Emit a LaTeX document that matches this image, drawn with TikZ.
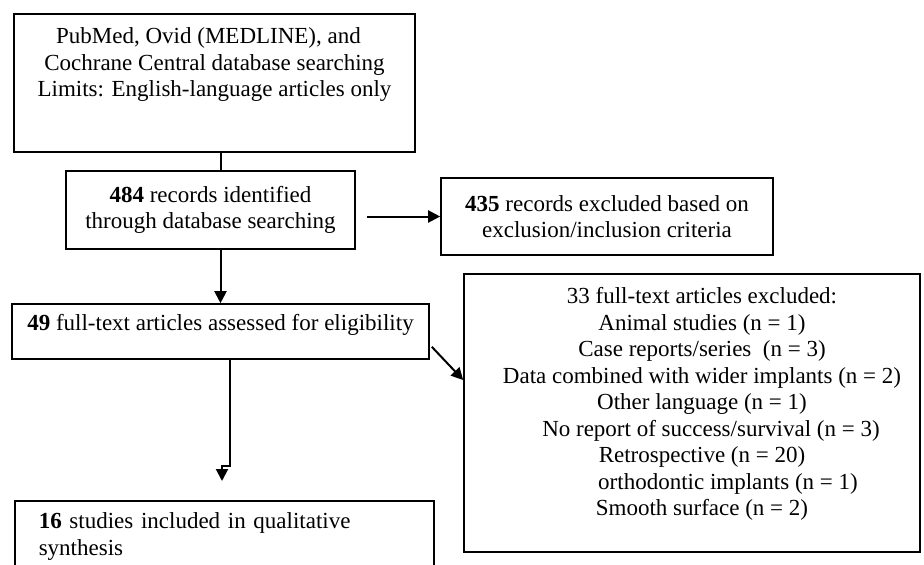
\documentclass[tikz,border=0pt]{standalone}
\usepackage{fontspec}
\setmainfont{Liberation Serif}
\usetikzlibrary{positioning,arrows.meta}

\begin{document}
\begin{tikzpicture}[->,>={Triangle[length=12pt,width=12pt]},line width=2pt,x=1pt,y=-1pt]
  \tikzstyle{box}=[draw,line width=1.6pt,inner sep=0pt,font=\fontsize{23}{26.5}\selectfont,align=center]
  \tikzstyle{words}=[inner sep=0pt,font=\fontsize{23}{26.5}\selectfont,align=center]

  \clip (0,0) rectangle (924,565);

  \node[box,minimum width=401pt,minimum height=138pt] (search) at (214.5,83) {};
  \node[words] (searchtxt) at (214.5,65) {PubMed, Ovid (MEDLINE), and\hspace*{12pt}\\
    Cochrane Central database searching\\
    Limits: English-language articles only};

  \node[box,minimum width=289pt,minimum height=78pt] (found) at (210.5,210) {\textbf{484} records identified\\through database searching};
  \node[box,minimum width=332pt,minimum height=77pt] (excluded) at (607,216.5) {\textbf{435} records excluded based on\\exclusion/inclusion criteria};
  \node[box,minimum width=417pt,minimum height=55pt,text height=18pt,text depth=21pt] (assessed) at (220.5,331.5) {\textbf{49} full-text articles assessed for eligibility};

  \node[box,minimum width=456pt,minimum height=278pt] (rejected) at (692,413) {};
  \node[words] (reasons) at (702,404) {33 full-text articles excluded:\\
    Animal studies (n = 1)\\
    Case reports/series~ (n = 3)\hspace*{15pt}\\
    Data combined with wider implants (n = 2)\\
    Other language (n = 1)\\
    \hspace*{18pt}No report of success/survival (n = 3)\\
    Retrospective (n = 20)\\
    \hspace*{52pt}orthodontic implants (n = 1)\\
    Smooth surface (n = 2)};

  \node[box,anchor=north west,inner xsep=24pt,inner ysep=12pt,text width=371pt,align=left] (included) at (14,500) {\textbf{16} studies included in qualitative\\synthesis};

  \coordinate (bend) at (230,466);
  \coordinate (drop) at (222,481);

  \draw[-] (search.south -| assessed.north) -- (found.north -| assessed.north);
  \draw ([xshift=11pt]found.east |- excluded.west) -- (excluded.west);
  \draw (found.south -| assessed.north) -- (assessed.north);
  \draw ([shift={(2pt,13pt)}]assessed.south east) -- ([yshift=33pt]rejected.west);
  \draw (assessed.south -| bend) -- (bend) -- (bend -| drop) -- (drop);

\end{tikzpicture}
\end{document}
